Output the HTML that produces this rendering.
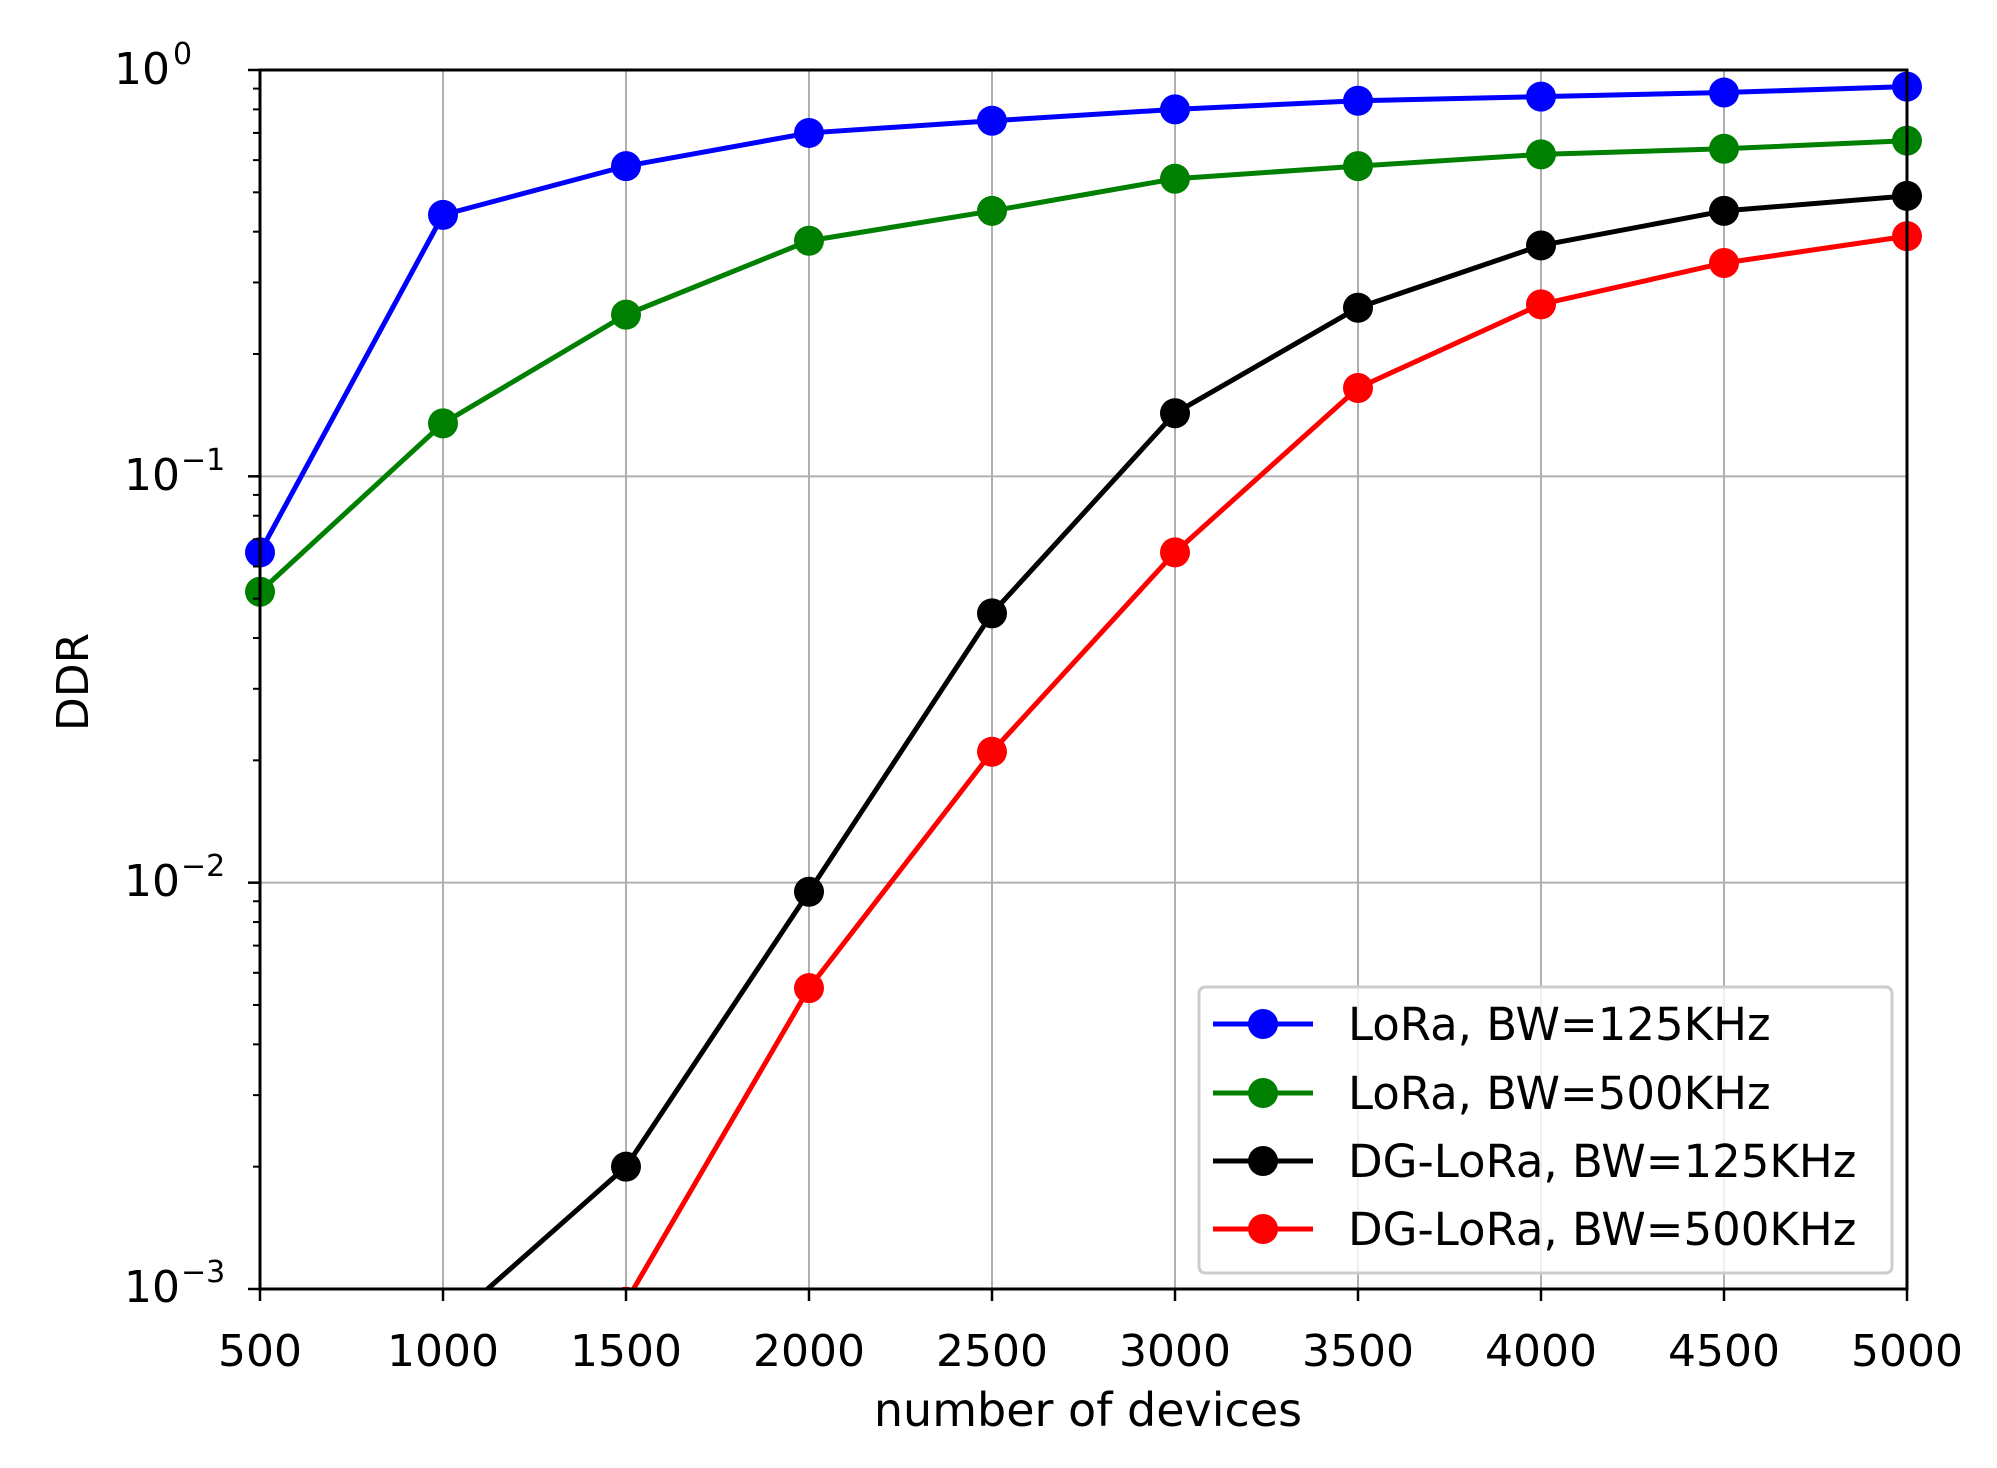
<!DOCTYPE html>
<html><head><meta charset="utf-8"><style>
html,body{margin:0;padding:0;background:#fff;overflow:hidden;width:1997px;height:1468px}
svg{display:block;font-family:"DejaVu Sans","Liberation Sans",sans-serif}
</style></head><body>
<svg id="s" width="1997" height="1468" xmlns="http://www.w3.org/2000/svg">
<defs><clipPath id="c"><rect x="240" y="40" width="1700" height="1250"/></clipPath></defs>
<rect width="1997" height="1468" fill="#fff"/>
<g id="grid"></g>
<g id="series" clip-path="url(#c)"></g>
<g id="ticks"></g>
<rect x="260" y="70" width="1647" height="1219" fill="none" stroke="#000" stroke-width="3"/>
<g font-size="44" fill="#000" text-anchor="middle">
<text x="260" y="1366">500</text><text x="443" y="1366">1000</text><text x="626" y="1366">1500</text>
<text x="809" y="1366">2000</text><text x="992" y="1366">2500</text><text x="1175" y="1366">3000</text>
<text x="1358" y="1366">3500</text><text x="1541" y="1366">4000</text><text x="1724" y="1366">4500</text>
<text x="1907" y="1366">5000</text>
<text x="1088" y="1426" font-size="46">number of devices</text>
<text transform="translate(88,682) rotate(-90)" font-size="44">DDR</text>
</g>
<g font-size="44" fill="#000">
<text x="170" y="84" text-anchor="end">10</text><text x="173" y="64" font-size="30">0</text>
<text x="180" y="490" text-anchor="end">10</text><text x="181" y="470" font-size="30">−1</text>
<text x="180" y="896" text-anchor="end">10</text><text x="181" y="876" font-size="30">−2</text>
<text x="180" y="1302" text-anchor="end">10</text><text x="181" y="1282" font-size="30">−3</text>
</g>
<g>
<rect x="1199" y="987" width="693" height="286" rx="6" fill="#fff" fill-opacity="0.8" stroke="#ccc" stroke-width="3"/>
<line x1="1213" y1="1024" x2="1313" y2="1024" stroke="#0000ff" stroke-width="5"/><circle cx="1263" cy="1024" r="15" fill="#0000ff"/>
<line x1="1213" y1="1093" x2="1313" y2="1093" stroke="#008000" stroke-width="5"/><circle cx="1263" cy="1093" r="15" fill="#008000"/>
<line x1="1213" y1="1161" x2="1313" y2="1161" stroke="#000" stroke-width="5"/><circle cx="1263" cy="1161" r="15" fill="#000"/>
<line x1="1213" y1="1229" x2="1313" y2="1229" stroke="#ff0000" stroke-width="5"/><circle cx="1263" cy="1229" r="15" fill="#ff0000"/>
<g font-size="45" fill="#000">
<text x="1348" y="1040">LoRa, BW=125KHz</text>
<text x="1348" y="1109">LoRa, BW=500KHz</text>
<text x="1348" y="1177">DG-LoRa, BW=125KHz</text>
<text x="1348" y="1245">DG-LoRa, BW=500KHz</text>
</g>
</g>
<script>
var NS="http://www.w3.org/2000/svg";
function X(i){return 260+i*183;}
function Y(v){return 70-Math.log10(v)*406.33;}
function el(p,t,a){var e=document.createElementNS(NS,t);for(var k in a)e.setAttribute(k,a[k]);p.appendChild(e);return e;}
var g=document.getElementById('grid'),tk=document.getElementById('ticks'),sr=document.getElementById('series');
for(var i=0;i<10;i++){el(g,'line',{x1:X(i),x2:X(i),y1:70,y2:1289,stroke:'#b0b0b0','stroke-width':2});
el(tk,'line',{x1:X(i),x2:X(i),y1:1289,y2:1301,stroke:'#000','stroke-width':2.5});}
for(var d=0;d<4;d++){var y=70+d*406.33;el(g,'line',{x1:260,x2:1907,y1:y,y2:y,stroke:'#b0b0b0','stroke-width':2});
el(tk,'line',{x1:248,x2:260,y1:y,y2:y,stroke:'#000','stroke-width':2.5});
if(d<3)for(var m=2;m<10;m++){var yy=Y(m*Math.pow(10,-d-1));el(tk,'line',{x1:253,x2:260,y1:yy,y2:yy,stroke:'#000','stroke-width':2});}}
var S=[['#0000ff',[0.065,0.44,0.58,0.70,0.75,0.80,0.84,0.86,0.88,0.91]],
['#008000',[0.052,0.135,0.25,0.38,0.45,0.54,0.58,0.62,0.64,0.67]],
['#000',[0.00012,0.0008,0.002,0.0095,0.046,0.143,0.26,0.37,0.45,0.49]],
['#ff0000',[0.00015,0.0003,0.00093,0.0055,0.021,0.065,0.165,0.265,0.335,0.39]]];
S.forEach(function(s){var pts=s[1].map(function(v,i){return X(i)+','+Y(v);}).join(' ');
el(sr,'polyline',{points:pts,fill:'none',stroke:s[0],'stroke-width':5,'stroke-linejoin':'round'});
s[1].forEach(function(v,i){el(sr,'circle',{cx:X(i),cy:Y(v),r:15,fill:s[0]});});});
</script>
</svg>
</body></html>
